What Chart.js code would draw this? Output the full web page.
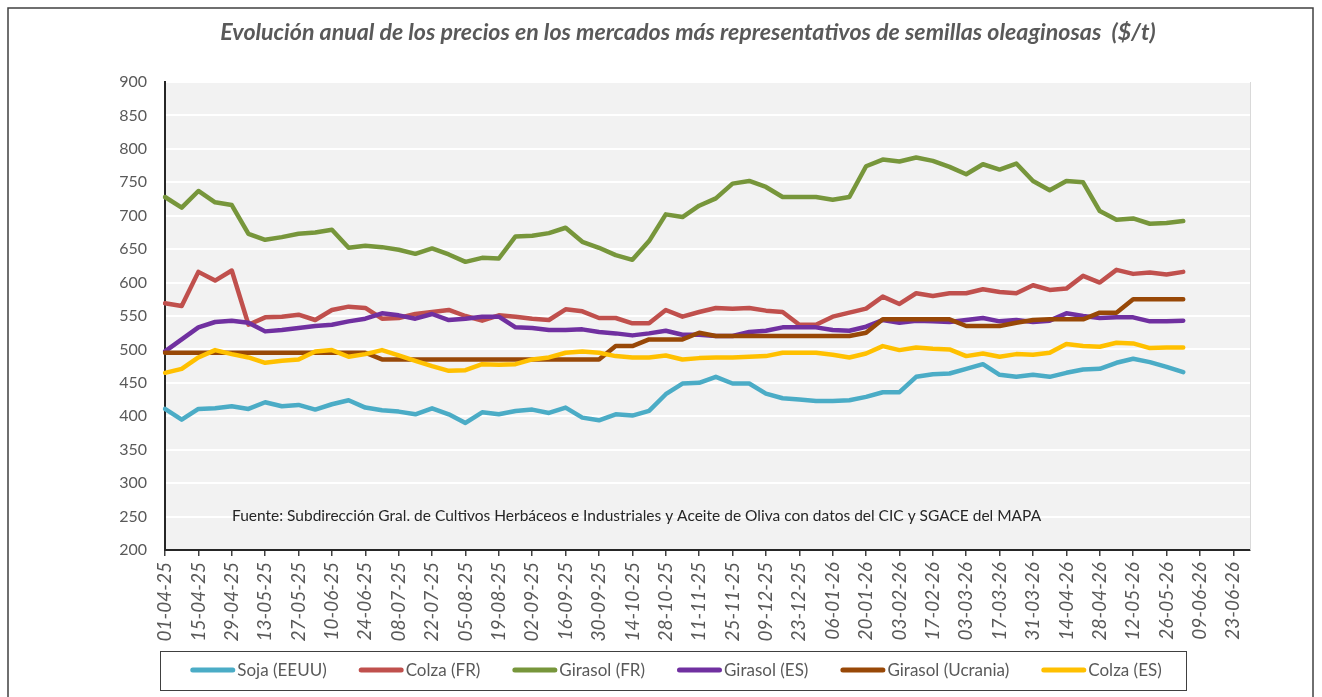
<!DOCTYPE html>
<html>
<head>
<meta charset="utf-8">
<script src="https://cdn.jsdelivr.net/npm/chart.js@4.4.0/dist/chart.umd.min.js"></script>
<style>
  html, body { margin: 0; padding: 0; background: #fff; }
</style>
</head>
<body>
<canvas id="myChart" width="1322" height="697"></canvas>
<script>
// fechas semanales del eje X (se rotula una de cada dos)
var fechas = [
  "01-04-25","08-04-25","15-04-25","22-04-25","29-04-25","06-05-25","13-05-25","20-05-25",
  "27-05-25","03-06-25","10-06-25","17-06-25","24-06-25","01-07-25","08-07-25","15-07-25",
  "22-07-25","29-07-25","05-08-25","12-08-25","19-08-25","26-08-25","02-09-25","09-09-25",
  "16-09-25","23-09-25","30-09-25","07-10-25","14-10-25","21-10-25","28-10-25","04-11-25",
  "11-11-25","18-11-25","25-11-25","02-12-25","09-12-25","16-12-25","23-12-25","30-12-25",
  "06-01-26","13-01-26","20-01-26","27-01-26","03-02-26","10-02-26","17-02-26","24-02-26",
  "03-03-26","10-03-26","17-03-26","24-03-26","31-03-26","07-04-26","14-04-26","21-04-26",
  "28-04-26","05-05-26","12-05-26","19-05-26","26-05-26","02-06-26","09-06-26","16-06-26",
  "23-06-26","30-06-26"
];

// precios ($/t)
var sojaEEUU = [411,395,411,412,415,411,421,415,417,410,418,424,413,409,407,403,412,403,390,406,
  403,408,410,405,413,398,394,403,401,408,433,449,450,459,449,449,434,427,425,423,
  423,424,429,436,436,459,463,464,471,478,462,459,462,459,465,470,471,480,486,481,474,466];
var colzaFR = [569,565,616,603,618,537,548,549,552,544,559,564,562,546,547,553,556,559,550,543,
  551,549,546,544,560,557,547,547,539,539,559,549,556,562,561,562,558,556,537,537,
  549,555,561,579,568,584,580,584,584,590,586,584,596,589,591,610,600,619,613,615,612,616];
var girasolFR = [728,712,737,720,716,673,664,668,673,675,679,652,655,653,649,643,651,642,631,637,
  636,669,670,674,682,661,652,641,634,662,702,698,715,726,748,752,743,728,728,728,
  724,728,774,784,781,787,782,773,762,777,769,778,752,738,752,750,707,694,696,688,689,692];
var girasolES = [497,515,533,541,543,540,527,529,532,535,537,542,546,554,551,546,553,544,546,549,
  549,533,532,529,529,530,526,524,521,524,528,522,522,520,520,526,528,533,533,533,
  529,528,534,544,540,543,542,541,544,547,542,544,541,543,554,550,547,548,548,542,542,543];
var girasolUcrania = [495,495,495,495,495,495,495,495,495,495,495,495,495,485,485,485,485,485,485,485,
  485,485,485,485,485,485,485,505,505,515,515,515,525,520,520,520,520,520,520,520,
  520,520,525,545,545,545,545,545,535,535,535,540,544,545,545,545,555,555,575,575,575,575];
var colzaES = [465,471,488,499,493,488,480,483,485,497,499,489,493,499,491,483,475,468,469,478,
  477,478,485,488,495,497,495,490,488,488,491,485,487,488,488,489,490,495,495,495,
  492,488,494,505,499,503,501,500,490,494,489,493,492,495,508,505,504,510,509,502,503,503];

var series = ["Soja (EEUU)", "Colza (FR)", "Girasol (FR)", "Girasol (ES)", "Girasol (Ucrania)", "Colza (ES)"];
var colores = ["#4BACC6", "#C0504D", "#77963B", "#7030A0", "#984807", "#FFC000"];
var valores = [sojaEEUU, colzaFR, girasolFR, girasolES, girasolUcrania, colzaES];

var yMin = 200, yMax = 900, yPaso = 50;

var titulo = "Evolución anual de los precios en los mercados más representativos de semillas oleaginosas  ($/t)";
var fuente = "Fuente: Subdirección Gral. de Cultivos Herbáceos e Industriales y Aceite de Oliva con datos del CIC y SGACE del MAPA";

var gris = "#595959";
var letra = "Lato";

// leyenda dibujada a mano (linea + texto, con recuadro)
function dibujarLeyenda(chart) {
  var ctx = chart.ctx, a = chart.chartArea;
  var linea = 45, hueco = 2, sep = 32;
  ctx.font = "17px " + letra;
  var anchos = series.map(function(s) { return ctx.measureText(s).width; });
  var total = sep * (series.length - 1);
  anchos.forEach(function(w) { total += linea + hueco + w; });
  var x = a.left + 511 - total / 2;
  var y = a.bottom + 120;
  var inicio = x;
  for (var i = 0; i < series.length; i++) {
    ctx.strokeStyle = colores[i];
    ctx.lineWidth = 5;
    ctx.lineCap = "round";
    ctx.beginPath();
    ctx.moveTo(x + 2.5, y);
    ctx.lineTo(x + linea - 2.5, y);
    ctx.stroke();
    ctx.fillStyle = gris;
    ctx.textAlign = "left";
    ctx.textBaseline = "middle";
    ctx.fillText(series[i], x + linea + hueco, y + 1);
    x += linea + hueco + anchos[i] + sep;
  }
  var fin = x - sep;
  ctx.strokeStyle = "#404040";
  ctx.lineWidth = 1;
  ctx.strokeRect(Math.round(inicio - 30) + 0.5, Math.round(y - 19) + 0.5, Math.round(fin - inicio + 55), 39);
}

// fondo, marco, titulo, nota
var adornos = {
  id: "adornos",
  beforeDraw: function(chart) {
    var ctx = chart.ctx, a = chart.chartArea;
    ctx.save();
    ctx.fillStyle = "#fff";
    ctx.fillRect(0, 0, chart.width, chart.height);
    ctx.fillStyle = "#F2F2F2";
    ctx.fillRect(a.left, a.top, a.right - a.left, a.bottom - a.top);
    ctx.restore();
  },
  beforeDatasetsDraw: function(chart) {
    var ctx = chart.ctx, a = chart.chartArea;
    ctx.save();
    ctx.strokeStyle = "#D9D9D9";
    ctx.lineWidth = 1;
    ctx.beginPath();
    ctx.moveTo(a.right + 0.5, a.top);
    ctx.lineTo(a.right + 0.5, a.bottom);
    ctx.stroke();
    ctx.restore();
  },
  afterDraw: function(chart) {
    var ctx = chart.ctx, a = chart.chartArea;
    ctx.save();
    // marco exterior
    ctx.strokeStyle = "#404040";
    ctx.lineWidth = 1.5;
    ctx.strokeRect(8, 8, 1305, 720);
    // titulo
    ctx.fillStyle = gris;
    ctx.font = "italic bold 23.2px " + letra;
    ctx.textAlign = "center";
    ctx.textBaseline = "middle";
    ctx.fillText(titulo, 688, 33);
    // nota de fuente
    ctx.fillStyle = "#262626";
    ctx.font = "15.5px " + letra;
    ctx.textAlign = "left";
    ctx.fillText(fuente, a.left + 67, a.bottom - 34);
    dibujarLeyenda(chart);
    ctx.restore();
  }
};

function main() {
  var datasets = [];
  for (var i = 0; i < series.length; i++) {
    datasets.push({
      label: series[i],
      data: valores[i],
      borderColor: colores[i],
      backgroundColor: colores[i],
      borderWidth: 4.5,
      pointRadius: 0,
      tension: 0,
      borderJoinStyle: "round",
      borderCapStyle: "round",
      order: series.length - i
    });
  }

  var ctx = document.getElementById("myChart").getContext("2d");
  var myChart = new Chart(ctx, {
    type: "line",
    data: { labels: fechas, datasets: datasets },
    options: {
      responsive: false,
      animation: false,
      devicePixelRatio: 1,
      layout: { padding: { top: 82, left: 102, right: 72, bottom: 55 } },
      plugins: {
        title: { display: false },
        tooltip: { enabled: false },
        legend: { display: false }
      },
      scales: {
        x: {
          offset: false,
          afterFit: function(scale) { scale.height = 92; },
          grid: { drawOnChartArea: false, color: "#404040", tickLength: 6, lineWidth: 1.5 },
          border: { color: "#262626", width: 2 },
          ticks: {
            autoSkip: false,
            maxRotation: 90,
            minRotation: 90,
            padding: 6,
            color: gris,
            font: { family: letra, size: 19, style: "italic" },
            callback: function(v, i) { return i % 2 === 0 ? fechas[i] : null; }
          }
        },
        y: {
          min: yMin,
          max: yMax,
          afterFit: function(scale) { scale.width = 63; },
          grid: {
            drawTicks: false,
            lineWidth: 2,
            color: function(c) { return c.tick && c.tick.value === yMin ? "rgba(0,0,0,0)" : "#FFFFFF"; }
          },
          border: { color: "#262626", width: 2 },
          ticks: {
            stepSize: yPaso,
            padding: 18,
            color: gris,
            font: { family: letra, size: 16 }
          }
        }
      }
    },
    plugins: [adornos]
  });
}

main();
</script>
</body>
</html>
